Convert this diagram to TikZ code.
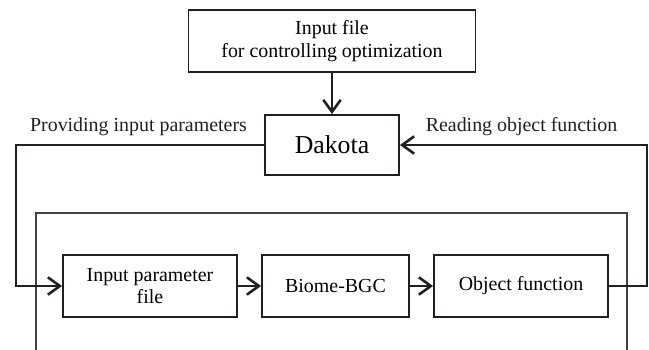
\documentclass[tikz,border=0pt]{standalone}
\usepackage{fontspec}
\setmainfont{Liberation Serif}
\usetikzlibrary{arrows.meta,positioning,calc}
\definecolor{dkInk}{HTML}{231F20}

\begin{document}
\begin{tikzpicture}[
  box/.style={draw=dkInk, line width=1.6pt, minimum height=1.86cm, align=center, inner sep=2pt,
    font=\fontsize{17}{19.5}\selectfont},
  arr/.style={-{Straight Barb[length=3.6mm, width=5.2mm]}, dkInk, line width=2.2pt},
  frm/.style={draw=dkInk!85, line width=1.1pt},
  lbl/.style={font=\fontsize{17}{19.5}\selectfont, text=dkInk}]
\useasboundingbox (0,0) rectangle (19.47,10.5);
% top of the loop
\node[box, minimum width=8.61cm] (ctl) at (9.96,9.27) {Input file\\for controlling optimization};
\node[box, minimum width=4.02cm, minimum height=1.8cm, font=\fontsize{22}{24}\selectfont] (dak) at (9.96,6.15) {Dakota};
\draw[arr] (ctl) -- (dak);
\node[lbl] (lblprov) at (4.155,6.69) {Providing input parameters};
\node[lbl] (lblread) at (15.645,6.69) {Reading object function};

% model chain
\draw[frm] (1.08,0) -- (1.08,4.11) -- (18.81,4.11) -- (18.81,0);
\node[box, minimum width=5.22cm] (inp) at (4.5,1.92) {Input parameter\\file};
\node[box, minimum width=4.41cm] (bgc) at (10.065,1.92) {Biome-BGC};
\node[box, minimum width=5.22cm] (obj) at (15.63,1.92) {Object function};
\foreach \a/\b in {inp/bgc,bgc/obj}{\draw[arr] (\a) -- (\b);}

% feedback lines
\coordinate (lx) at (0.48,1.92);
\coordinate (rx) at (19.41,6.15);
\draw[arr] (dak.west) -| (lx) -- (inp.west);
\draw[arr] (obj.east) -| (rx) -- (dak.east);
\end{tikzpicture}
\end{document}
